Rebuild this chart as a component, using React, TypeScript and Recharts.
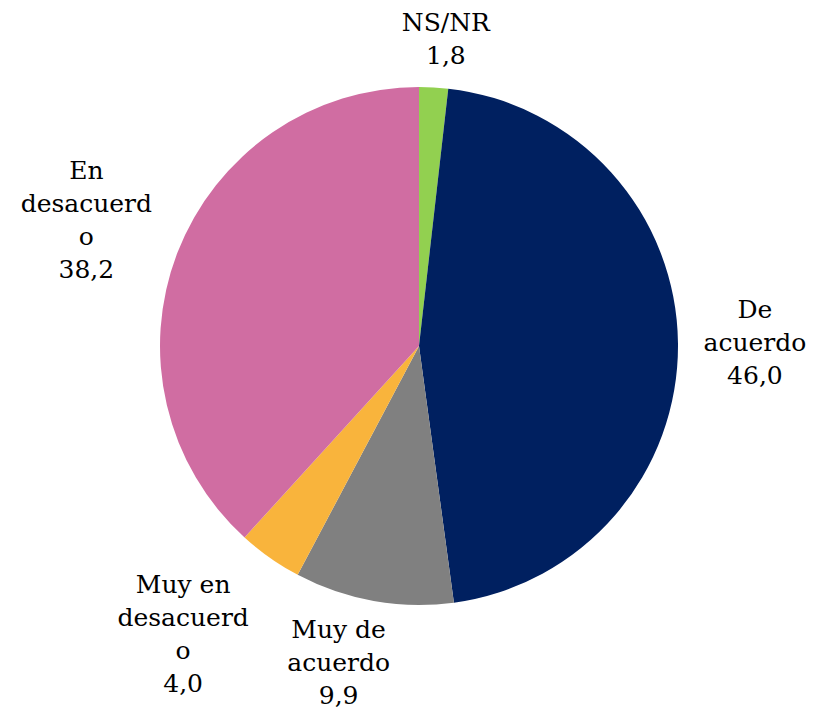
import { PieChart, Pie, Cell } from "recharts";

const categories = ["NS/NR", "De acuerdo", "Muy de acuerdo", "Muy en desacuerdo", "En desacuerdo"];
const values = [1.8, 46.0, 9.9, 4.0, 38.2];
// how each label wraps in the reference
const labelLines = [
  ["NS/NR"],
  ["De", "acuerdo"],
  ["Muy de", "acuerdo"],
  ["Muy en", "desacuerd", "o"],
  ["En", "desacuerd", "o"],
];

const COLORS = ["#92D050", "#002060", "#808080", "#F9B43C", "#D06DA2"];
// label nudges from the default radial spot
const NUDGE = [
  [9, 8],
  [20, -1],
  [-25, 5],
  [-54, 29],
  [-38, -12],
];

const data = categories.map((name, i) => ({ name, value: values[i] }));

const FONT = "'DejaVu Serif', serif";
const LINE = 33;
const RADIAN = Math.PI / 180;

function renderLabel(props: any) {
  const { cx, cy, midAngle, outerRadius, index, value } = props;
  const r = outerRadius * 1.22;
  const x = cx + r * Math.cos(-midAngle * RADIAN) + NUDGE[index][0];
  const y = cy + r * Math.sin(-midAngle * RADIAN) + NUDGE[index][1];
  const lines = [...labelLines[index], value.toFixed(1).replace(".", ",")];
  const top = y - ((lines.length - 1) * LINE) / 2;
  return (
    <text
      key={index}
      x={x}
      y={top}
      textAnchor="middle"
      dominantBaseline="central"
      fill="#000"
      fontFamily={FONT}
      fontSize={25}
    >
      {lines.map((l, i) => (
        <tspan key={i} x={x} y={top + i * LINE}>
          {l}
        </tspan>
      ))}
    </text>
  );
}

export default function App() {
  return (
    <div style={{ position: "absolute", left: 0, top: 0, width: 815, height: 711, background: "#fff" }}>
      <PieChart width={815} height={711} margin={{ top: 0, right: 0, bottom: 0, left: 0 }}>
        <Pie
          data={data}
          dataKey="value"
          nameKey="name"
          cx={419}
          cy={346}
          outerRadius={259}
          startAngle={90}
          endAngle={-270}
          stroke="none"
          label={renderLabel}
          labelLine={false}
          isAnimationActive={false}
        >
          {data.map((_, i) => (
            <Cell key={i} fill={COLORS[i]} />
          ))}
        </Pie>
      </PieChart>
    </div>
  );
}
